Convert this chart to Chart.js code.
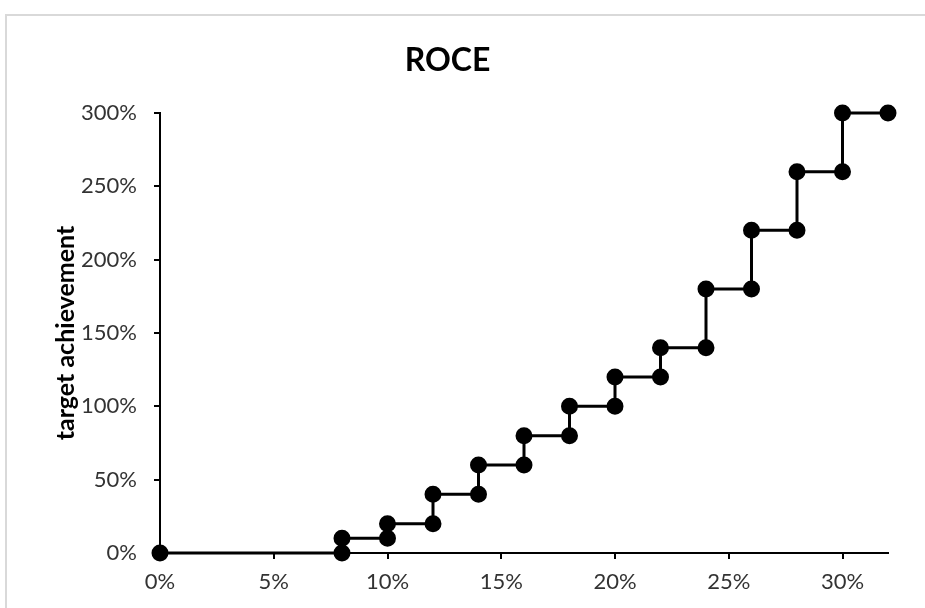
<!DOCTYPE html>
<html>
<head>
<meta charset="utf-8">
<script src="https://cdn.jsdelivr.net/npm/chart.js@4.4.1/dist/chart.umd.min.js"></script>
<style>
  html, body { margin: 0; padding: 0; background: #fff; overflow: hidden; width: 925px; height: 608px; }
  #frame { position: absolute; left: 5px; top: 14px; width: 938px; height: 620px; border: 2px solid #d9d9d9; box-sizing: border-box; background: #fff; }
  #frame canvas { display: block; }
</style>
</head>
<body>
<div id="frame"><canvas id="roceChart" width="934" height="616"></canvas></div>
<script>
// step curve: ROCE (%) vs target achievement (%)
const roce        = [0, 8, 8, 10, 10, 12, 12, 14, 14, 16, 16, 18, 18, 20, 20, 22, 22, 24, 24, 26, 26, 28, 28, 30, 30, 32];
const achievement = [0, 0, 10, 10, 20, 20, 40, 40, 60, 60, 80, 80, 100, 100, 120, 120, 140, 140, 180, 180, 220, 220, 260, 260, 300, 300];
const xTicks = [0, 5, 10, 15, 20, 25, 30];
const yTicks = [0, 50, 100, 150, 200, 250, 300];

const tickFont = { family: 'Lato, "Open Sans", sans-serif', size: 22 };
const tickColor = '#333';

const points = roce.map((v, i) => ({ x: v, y: achievement[i] }));

const ctx = document.getElementById('roceChart').getContext('2d');
const roceChart = new Chart(ctx, {
    type: 'scatter',
    data: {
        datasets: [{
            data: points,
            showLine: true,
            borderColor: '#000',
            backgroundColor: '#000',
            borderWidth: 3,
            pointRadius: 7,
            pointHoverRadius: 7,
            clip: false
        }]
    },
    options: {
        responsive: false,
        animation: false,
        layout: { padding: { left: 0, right: 53, top: 0, bottom: 0 } },
        plugins: {
            legend: { display: false },
            tooltip: { enabled: false },
            title: {
                display: true,
                text: 'ROCE',
                color: '#000',
                font: { family: 'Lato, "Open Sans", sans-serif', size: 32, weight: 'bold', lineHeight: 1.2 },
                padding: { top: 25, bottom: 33.6 }
            }
        },
        scales: {
            x: {
                type: 'linear',
                min: 0,
                max: 32,
                afterBuildTicks: (scale) => { scale.ticks = xTicks.map(v => ({ value: v })); },
                afterFit: (scale) => { scale.height = 79; },
                ticks: {
                    color: tickColor,
                    font: tickFont,
                    padding: 10,
                    maxRotation: 0,
                    callback: (v) => v + '%'
                },
                grid: { drawOnChartArea: false, drawTicks: true, tickLength: 6, color: '#000', lineWidth: 2 },
                border: { display: true, color: '#000', width: 2 }
            },
            y: {
                type: 'linear',
                min: 0,
                max: 300,
                afterBuildTicks: (scale) => { scale.ticks = yTicks.map(v => ({ value: v })); },
                afterFit: (scale) => { scale.width = 153; },
                ticks: {
                    color: tickColor,
                    font: tickFont,
                    padding: 17,
                    callback: (v) => v + '%'
                },
                grid: { drawOnChartArea: false, drawTicks: true, tickLength: 6, color: '#000', lineWidth: 2 },
                border: { display: true, color: '#000', width: 2 },
                title: {
                    display: true,
                    text: 'target achievement',
                    color: '#000',
                    font: { family: 'Lato, "Open Sans", sans-serif', size: 25, weight: 'bold', lineHeight: 1.2 },
                    padding: { top: 44, bottom: 0 }
                }
            }
        }
    }
});
</script>
</body>
</html>
